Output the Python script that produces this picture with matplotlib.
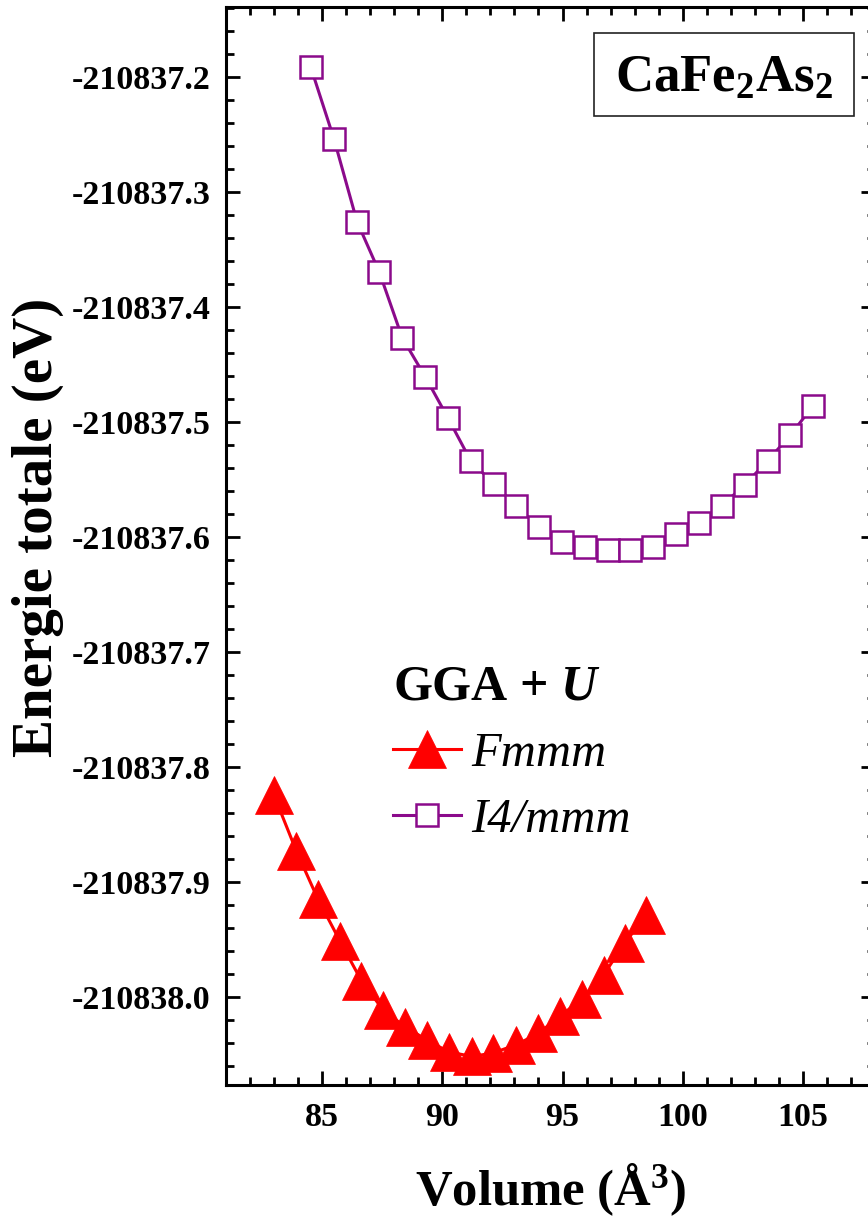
import matplotlib
matplotlib.use("Agg")
import matplotlib.pyplot as plt
from matplotlib.ticker import MultipleLocator, FuncFormatter
from matplotlib.patches import Rectangle

# ---------------- data ----------------
vol_fmmm = [83.0, 83.92, 84.82, 85.75, 86.63, 87.55, 88.44, 89.38, 90.27, 91.23,
            92.1, 93.05, 94.0, 94.88, 95.83, 96.71, 97.6, 98.49]
e_fmmm = [-210837.825, -210837.873, -210837.915, -210837.952, -210837.986,
          -210838.012, -210838.026, -210838.038, -210838.048, -210838.052,
          -210838.049, -210838.042, -210838.032, -210838.017, -210838.002,
          -210837.981, -210837.953, -210837.929]

vol_i4 = [84.53, 85.49, 86.45, 87.38, 88.33, 89.29, 90.24, 91.18, 92.13, 93.07,
          94.04, 94.99, 95.93, 96.90, 97.82, 98.76, 99.74, 100.68, 101.63, 102.58,
          103.53, 104.47, 105.43]
e_i4 = [-210837.192, -210837.254, -210837.326, -210837.370, -210837.427,
        -210837.461, -210837.497, -210837.534, -210837.554, -210837.573,
        -210837.592, -210837.605, -210837.609, -210837.612, -210837.612,
        -210837.609, -210837.598, -210837.588, -210837.573, -210837.555,
        -210837.534, -210837.512, -210837.486]

label_fmmm = "Fmmm"
label_i4 = "I4/mmm"
legend_title = "GGA + $U$"
compound = "CaFe$_2$As$_2$"
xlabel = "Volume (Å$^3$)"
ylabel = "Energie totale (eV)"

# ---------------- style ----------------
SERIF = "Liberation Serif"
plt.rcParams["font.family"] = [SERIF, "DejaVu Serif"]
plt.rcParams["font.weight"] = "bold"
plt.rcParams["mathtext.fontset"] = "custom"
plt.rcParams["mathtext.rm"] = "Liberation Serif:bold"
plt.rcParams["mathtext.it"] = "Liberation Serif:italic:bold"
plt.rcParams["mathtext.bf"] = "Liberation Serif:bold"

RED = "#ff0000"
PURPLE = "#8b0a8b"

W, H = 868, 1220
fig = plt.figure(figsize=(W / 100, H / 100), dpi=100)
# axes pixel box (right spine lies just beyond the image edge)
L, R, T, B = 226, 875, 7.3, 1085
ax = fig.add_axes([L / W, 1 - B / H, (R - L) / W, (B - T) / H])

ax.plot(vol_fmmm, e_fmmm, color=RED, lw=2.2, marker="^", ms=27,
        mfc=RED, mec=RED, mew=0.5, label=label_fmmm, zorder=3)
ax.plot(vol_i4, e_i4, color=PURPLE, lw=2.2, marker="s", ms=15.5,
        mfc="white", mec=PURPLE, mew=1.8, label=label_i4, zorder=3)

ax.set_xlim(81, 108)
ax.set_ylim(-210838.0768, -210837.1397)

ax.xaxis.set_major_locator(MultipleLocator(5))
ax.xaxis.set_minor_locator(MultipleLocator(1))
ax.yaxis.set_major_locator(MultipleLocator(0.1))
ax.yaxis.set_minor_locator(MultipleLocator(0.02))
ax.yaxis.set_major_formatter(FuncFormatter(lambda v, p: f"{v:.1f}"))
ax.xaxis.set_major_formatter(FuncFormatter(lambda v, p: f"{v:.0f}"))

for s in ax.spines.values():
    s.set_linewidth(2.2)
ax.tick_params(which="both", direction="in", top=True, right=True, width=2.0)
ax.tick_params(which="major", length=10, labelsize=24.5)
ax.tick_params(axis="y", which="major", pad=11)
ax.tick_params(axis="x", which="major", pad=12)
ax.tick_params(which="minor", length=6)
for lab in ax.get_xticklabels() + ax.get_yticklabels():
    lab.set_fontweight("bold")

fig.text(551 / W, 1 - 1190 / H, xlabel, fontsize=36.5, fontweight="bold",
         ha="center", va="center")
fig.text(38 / W, 1 - 527 / H, ylabel, fontsize=41, fontweight="bold",
         rotation=90, ha="center", va="center")

# compound box
def ax_xy(px, py):
    return (px - L) / (R - L), 1 - (py - T) / (B - T)

x0, y0 = ax_xy(594, 116)
x1, y1 = ax_xy(854, 33.3)
ax.add_patch(Rectangle((x0, y0), x1 - x0, y1 - y0, transform=ax.transAxes,
                       fill=False, ec="#222222", lw=1.2, zorder=4))
cx, cy = ax_xy(724, 79)
ax.text(cx, cy, compound, transform=ax.transAxes, fontsize=38,
        fontweight="bold", ha="center", va="center", zorder=5)

# legend
lx, ly = ax_xy(393, 664)
leg = ax.legend(loc="upper left", bbox_to_anchor=(lx, ly), frameon=False,
                title=legend_title, alignment="left",
                prop={"family": SERIF, "style": "italic", "weight": "normal",
                      "size": 35},
                handlelength=1.4, handletextpad=0.2, labelspacing=0.45,
                borderaxespad=0, borderpad=0)
leg.get_title().set_fontsize(36)
leg.get_title().set_fontweight("bold")

fig.savefig("out.png", dpi=100)
